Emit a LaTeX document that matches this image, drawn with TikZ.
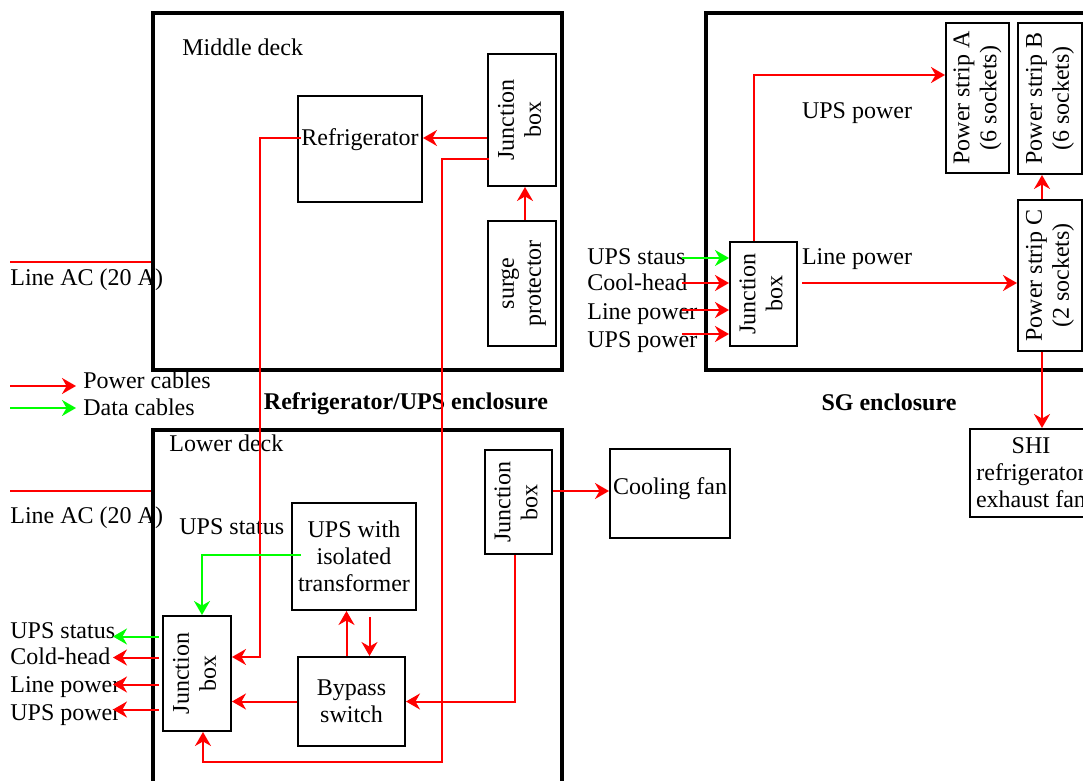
\documentclass[tikz,border=0pt]{standalone}
\usepackage{fontspec}
\setmainfont{Liberation Serif}
\usetikzlibrary{arrows.meta, positioning}
\definecolor{pred}{RGB}{255,0,0}
\definecolor{dgreen}{RGB}{0,255,0}
\newcommand{\nfont}{\fontsize{12}{13.5}\selectfont}
\newcommand{\vtext}[1]{\rotatebox{90}{\begin{tabular}{@{}c@{}}#1\end{tabular}}}

\begin{document}
\begin{tikzpicture}[x=0.5pt, y=-0.5pt, font=\nfont,
        encl/.style={draw, line width=1.7pt, inner sep=0pt},
        box/.style={draw, line width=1pt, inner sep=0pt, align=center},
        txt/.style={inner sep=0pt, text height=8pt, text depth=2.5pt},
        bold/.style={txt, font=\nfont\bfseries},
        pw/.style={-{Stealth[length=7pt, width=8pt]}, color=pred, line width=1pt},
        dat/.style={pw, color=dgreen},
        cab/.style={color=pred, line width=0.8pt}
    ]
    \path[use as bounding box, clip] (0,0) rectangle (1083,781);
    % enclosures
    \node[encl, minimum width=204.5pt, minimum height=178.5pt] (midd) at (357.5,191.5) {};
    \node[encl, minimum width=204.5pt, minimum height=185pt] (lowd) at (357.5,615) {};
    \node[encl, minimum width=192pt, minimum height=178.5pt] (sgenc) at (898,191.5) {};
    \node[txt, anchor=west] (middlbl) at (182,50) {Middle deck};
    \node[txt, anchor=west] (lowlbl) at (169,446) {Lower deck};
    \node[bold] (refencl) at (406,404) {Refrigerator/UPS enclosure};
    \node[bold] (sgencl) at (889,405) {SG enclosure};
    % middle deck
    \node[box, minimum width=34pt, minimum height=66pt] (jbmid) at (522,120) {\vtext{Junction\\box}};
    \node[box, minimum width=34pt, minimum height=62.5pt] (surge) at (522,283.5) {\vtext{surge\\protector}};
    \node[box, minimum width=62pt, minimum height=53pt] (fridge) at (360,149) {\raisebox{12pt}{Refrigerator}};
    % lower deck
    \node[box, minimum width=33.5pt, minimum height=52pt] (jblow) at (518.5,502) {\vtext{Junction\\box}};
    \node[box, minimum width=62pt, minimum height=53.5pt] (ups) at (354,556.5) {UPS with\\isolated\\transformer};
    \node[box, minimum width=53.5pt, minimum height=44.5pt] (bypass) at (351.5,701.5) {Bypass\\switch};
    \node[box, minimum width=34pt, minimum height=57.5pt] (jbups) at (197,673.5) {\vtext{Junction\\box}};
    \node[txt, anchor=west] (upsstat) at (179,529) {UPS status};
    \node[box, minimum width=60pt, minimum height=44.5pt] (fan) at (670,493.5) {\raisebox{7.5pt}{Cooling fan}};
    % SG enclosure
    \node[box, minimum width=33.5pt, minimum height=52pt] (jbsg) at (763.5,294) {\vtext{Junction\\box}};
    \node[box, minimum width=31.5pt, minimum height=75pt] (psa) at (977.5,98) {\vtext{Power strip A\\(6 sockets)}};
    \node[box, minimum width=32pt, minimum height=75.5pt] (psb) at (1050,98.5) {\vtext{Power strip B\\(6 sockets)}};
    \node[box, minimum width=32pt, minimum height=75.5pt] (psc) at (1050,275.5) {\vtext{Power strip C\\(2 sockets)}};
    \node[box, minimum width=61pt, minimum height=44pt] (shi) at (1031,473) {SHI\\refrigerator\\exhaust fan};
    \node[txt] (upspw) at (857,113) {UPS power};
    \node[txt] (linepw) at (857,259) {Line power};

    % incoming line AC
    \coordinate (acA) at (10,262);
    \coordinate (acB) at (10,491);
    \draw[cab] (acA) -- (acA -| midd.west);
    \draw[cab] (acB) -- (acB -| lowd.west);
    \node[txt, anchor=west] (acAlbl) at (10,280) {Line AC (20 A)};
    \node[txt, anchor=west] (acBlbl) at (10,518) {Line AC (20 A)};

    % legend
    \node[txt, anchor=west, inner xsep=3.5pt] (lgpow) at (76,383) {Power cables};
    \node[txt, anchor=west, inner xsep=3.5pt] (lgdat) at (76,410) {Data cables};
    \coordinate (lgA) at (10,386);
    \coordinate (lgB) at (10,408);
    \draw[pw] (lgA) -- (lgA -| lgpow.west);
    \draw[dat] (lgB) -- (lgB -| lgdat.west);

    % middle deck wiring
    \draw[pw] ([xshift=1.5pt]surge.north) -- ([xshift=1.5pt]jbmid.south);
    \path ([shift={(0,18)}]jbmid.west) coordinate (jf);
    \draw[pw] (jf) -- (jf -| fridge.east);
    \path ([shift={(4,-11)}]fridge.west) coordinate (fs);
    \coordinate (fdrop) at (260,657);
    \draw[pw] (fs) -| (fdrop) -- (fdrop -| jbups.east);
    \path ([shift={(2,39)}]jbmid.west) coordinate (js);
    \coordinate (lowrun) at (442,762);
    \draw[pw] (js) -| (lowrun) -| ([xshift=3pt]jbups.south);

    % lower deck wiring
    \path ([shift={(0,-11)}]jblow.east) coordinate (jc);
    \draw[pw] (jc) -- (jc -| fan.west);
    \draw[pw] ([xshift=-2pt]jblow.south) |- (bypass.east);
    \draw[pw] (bypass.west) -- (bypass.west -| jbups.east);
    \path ([xshift=-2.5pt]bypass.north) coordinate (bu);
    \draw[pw] (bu) -- (bu |- ups.south);
    \path ([xshift=9pt]bypass.north) coordinate (bd);
    \path (bd |- ups.south) coordinate (bd0);
    \draw[pw] ([yshift=-3pt]bd0) -- (bd);
    \draw[dat] ([shift={(10,-2)}]ups.west) -| ([xshift=2.5pt]jbups.north);

    % lower deck outputs
    \foreach \t/\yy/\n in {UPS status/633/lo1, Cold-head/659/lo2, Line power/687/lo3, UPS power/715/lo4}
        \node[txt, anchor=west] (\n) at (10,\yy) {\t};
    \coordinate (outx) at (113,0);
    \foreach \dy/\c in {-37/dgreen, -16/pred, 11/pred, 36/pred} {
        \path ([shift={(-3,\dy)}]jbups.west) coordinate (e);
        \draw[pw, color=\c] (e) -- (e -| outx);
    }

    % SG inputs
    \foreach \t/\yy/\n in {UPS staus/259/si1, Cool-head/285/si2, Line power/314/si3, UPS power/342/si4}
        \node[txt, anchor=west] (\n) at (587,\yy) {\t};
    \coordinate (inx) at (682,0);
    \foreach \dy/\c in {-36/dgreen, -11/pred, 16/pred, 40/pred} {
        \path ([shift={(0,\dy)}]jbsg.west) coordinate (e);
        \draw[pw, color=\c] (e -| inx) -- (e);
    }

    % SG wiring
    \draw[pw] ([xshift=-4.75pt]jbsg.north) |- ([shift={(0,-23)}]psa.west);
    \path ([shift={(4,-11)}]jbsg.east) coordinate (lps);
    \draw[pw] (lps) -- (lps -| psc.west);
    \draw[pw] ([xshift=-4pt]psc.north) -- ([xshift=-4pt]psb.south);
    \path ([xshift=-4pt]psc.south) coordinate (pcs);
    \draw[pw] (pcs) -- (pcs |- shi.north);
\end{tikzpicture}
\end{document}
